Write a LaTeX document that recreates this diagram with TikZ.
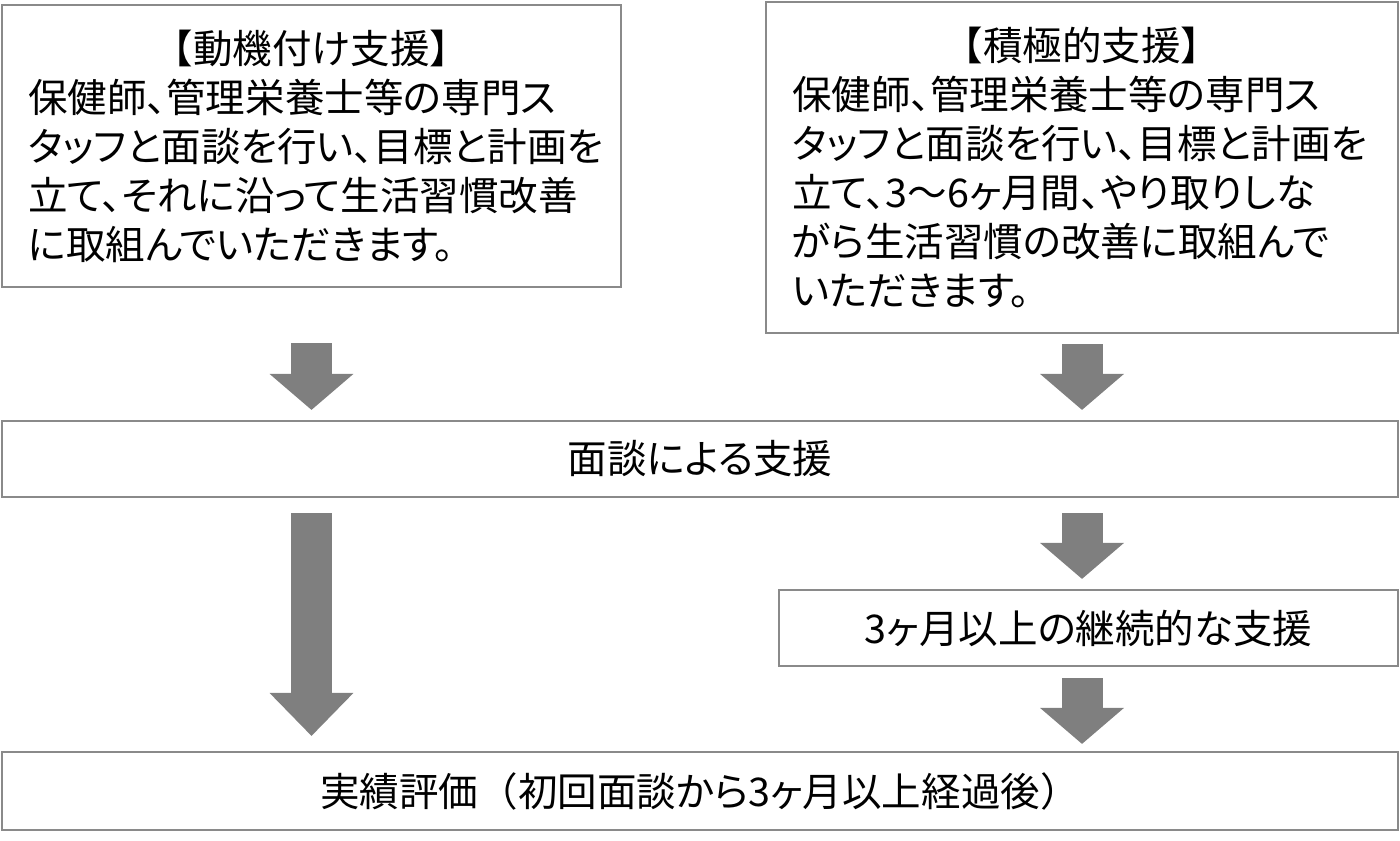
\documentclass[tikz,border=0pt]{standalone}
\usepackage{fontspec}
\setmainfont[RawFeature=+palt]{Noto Sans CJK JP}
\newfontfamily\fullwidth{Noto Sans CJK JP}
\usepackage{xcolor}
\usetikzlibrary{arrows.meta,calc}
\definecolor{boxgray}{HTML}{8A8A8A}
\definecolor{arrowgray}{HTML}{7F7F7F}
\tikzset{
    plain-box/.style = {draw=boxgray, line width=0.045cm, fill=white, rectangle, inner sep=0pt, font=\fontsize{22.5pt}{27.9pt}\selectfont},
    block-arrow/.style = {draw=arrowgray, line width=0.82cm, -{Triangle[width=1.68cm, length=#1, line width=0pt]}},
    block-arrow/.default = 0.72cm,
}

\begin{document}
\begin{tikzpicture}[x=0.02cm, y=0.02cm]
\useasboundingbox (0,0) rectangle (1400,-841);
\node [plain-box, minimum width=12.38cm, minimum height=5.64cm] (motive) at (311.5,-146) {\begin{minipage}{11.34cm}
    \centering {\fullwidth 【}動機付け支援{\fullwidth 】}\par
    \raggedright 保健師、管理栄養士等の専門ス\\
    タッフと面談を行い、目標と計画を\\
    立て、それに沿って生活習慣改善\\
    に取組んでいただきます。
\end{minipage}};
\node [plain-box, minimum width=12.64cm, minimum height=6.62cm] (intensive) at (1082,-167.5) {\begin{minipage}{11.6cm}
    \centering {\fullwidth 【}積極的支援{\fullwidth 】}\par
    \raggedright 保健師、管理栄養士等の専門ス\\
    タッフと面談を行い、目標と計画を\\
    立て、3～6ヶ月間、やり取りしな\\
    がら生活習慣の改善に取組んで\\
    いただきます。
\end{minipage}};
\node [plain-box, minimum width=27.92cm, minimum height=1.52cm] (talk) at (700,-459) {面談による支援};
\node [plain-box, minimum width=12.38cm, minimum height=1.52cm] (cont) at (1088.5,-628) {3ヶ月以上の継続的な支援};
\node [plain-box, minimum width=27.92cm, minimum height=1.56cm] (result) at (700,-791) {実績評価{\fullwidth （}初回面談から3ヶ月以上経過後{\fullwidth ）}};

\draw [block-arrow] ($(motive.south)+(0,-55)$) -- ($(motive.south |- talk.north)+(0,10)$);
\draw [block-arrow] ($(intensive.south)+(0,-10)$) -- ($(intensive.south |- talk.north)+(0,10)$);
\draw [block-arrow=0.86cm] ($(motive.south |- talk.south)+(0,-15)$) -- ($(motive.south |- result.north)+(0,15)$);
\draw [block-arrow] ($(intensive.south |- talk.south)+(0,-15)$) -- ($(intensive.south |- cont.north)+(0,10)$);
\draw [block-arrow] ($(intensive.south |- cont.south)+(0,-11)$) -- ($(intensive.south |- result.north)+(0,7)$);
\end{tikzpicture}
\end{document}
